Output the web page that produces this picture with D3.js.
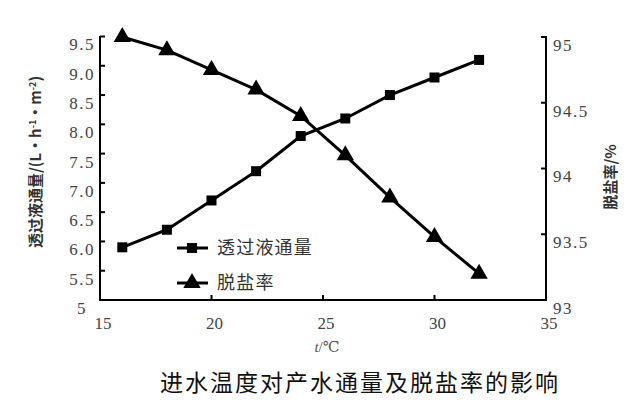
<!DOCTYPE html>
<html><head><meta charset="utf-8">
<script src="https://cdn.jsdelivr.net/npm/d3@7"></script>
<style>
html,body{margin:0;padding:0;background:#fff;}
svg{display:block;}
</style></head>
<body>
<svg id="c" width="634" height="404"></svg>
<script>
const temps = [16, 18, 20, 22, 24, 26, 28, 30, 32];
const flux = [5.9, 6.2, 6.7, 7.2, 7.8, 8.1, 8.5, 8.8, 9.1];
const rejection = [95.0, 94.9, 94.75, 94.6, 94.4, 94.1, 93.78, 93.48, 93.2];
const xTicks = [15, 20, 25, 30, 35];
const yLeftTicks = [5, 5.5, 6, 6.5, 7, 7.5, 8, 8.5, 9, 9.5];
const yRightTicks = [93, 93.5, 94, 94.5, 95];
const seriesNames = ["透过液通量", "脱盐率"];
const title = "进水温度对产水通量及脱盐率的影响";

const svg = d3.select("#c");
const L = 100, R = 546, T = 36, B = 300;
const x = d3.scaleLinear().domain([15, 35]).range([L, R]);
const yL = d3.scaleLinear().domain([5, 9.5]).range([B, T + 0.5]);
const yR = d3.scaleLinear().domain([93, 95]).range([B, T + 1]);

const tickFont = "Liberation Serif, DejaVu Serif, Times New Roman, serif";
const tickColor = "#444";

// axes lines
const axG = svg.append("g").attr("stroke", "#000").attr("stroke-width", 2).attr("fill", "none");
axG.append("line").attr("x1", L).attr("x2", L).attr("y1", T).attr("y2", B + 1);
axG.append("line").attr("x1", R).attr("x2", R).attr("y1", T).attr("y2", B + 1);
axG.append("line").attr("x1", L - 1).attr("x2", R + 1).attr("y1", B).attr("y2", B);

// left ticks
const lg = svg.append("g");
lg.selectAll("line").data(yLeftTicks).join("line")
  .attr("x1", L).attr("x2", L + 5).attr("y1", d => yL(d)).attr("y2", d => yL(d))
  .attr("stroke", "#000").attr("stroke-width", 2);
lg.selectAll("text").data(yLeftTicks).join("text")
  .attr("x", L - 18).attr("y", d => yL(d) + 8)
  .attr("dy", "0.35em").attr("text-anchor", "middle")
  .style("font-family", tickFont).attr("font-size", 17).attr("fill", tickColor)
  .attr("letter-spacing", 1.5)
  .text(d => d === 5 ? "5" : d3.format(".1f")(d));

// right ticks
const rg = svg.append("g");
rg.selectAll("line").data(yRightTicks).join("line")
  .attr("x1", R - 5).attr("x2", R).attr("y1", d => yR(d)).attr("y2", d => yR(d))
  .attr("stroke", "#000").attr("stroke-width", 2);
rg.selectAll("text").data(yRightTicks).join("text")
  .attr("x", R + 7).attr("y", d => yR(d) + 8)
  .attr("dy", "0.35em").attr("text-anchor", "start")
  .style("font-family", tickFont).attr("font-size", 17).attr("fill", tickColor)
  .attr("letter-spacing", 1.5)
  .text(d => String(d));

// bottom ticks
const bg = svg.append("g");
bg.selectAll("line").data(xTicks).join("line")
  .attr("x1", d => x(d)).attr("x2", d => x(d)).attr("y1", B).attr("y2", B - 5)
  .attr("stroke", "#000").attr("stroke-width", 2);
bg.selectAll("text").data(xTicks).join("text")
  .attr("x", d => x(d) + 3).attr("y", B + 23)
  .attr("dy", "0.35em").attr("text-anchor", "middle")
  .style("font-family", tickFont).attr("font-size", 17).attr("fill", tickColor)
  .text(d => d);

// axis titles
svg.append("text").attr("x", 327).attr("y", 347).attr("dy", "0.35em")
  .attr("text-anchor", "middle").style("font-family", tickFont).attr("font-size", 15).attr("fill", "#555")
  .html("<tspan font-style='italic'>t</tspan>/℃");

svg.append("text")
  .attr("transform", "translate(36,162) rotate(-90)")
  .attr("text-anchor", "middle").attr("dy", "0.35em")
  .style("font-family", "Noto Sans CJK SC, sans-serif").attr("font-size", 15).attr("fill", "#333")
  .attr("font-weight", "bold")
  .html("透过液通量/(L·h<tspan dy='-5' font-size='9'>-1</tspan><tspan dy='5'>·m</tspan><tspan dy='-5' font-size='9'>-2</tspan><tspan dy='5'>)</tspan>");

svg.append("text")
  .attr("transform", "translate(611,177) rotate(-90)")
  .attr("text-anchor", "middle").attr("dy", "0.35em")
  .style("font-family", "Noto Sans CJK SC, sans-serif").attr("font-size", 15).attr("fill", "#333")
  .attr("font-weight", "bold")
  .text("脱盐率/%");

// lines
const lineL = d3.line().x((d, i) => x(temps[i])).y(d => yL(d));
const lineR = d3.line().x((d, i) => x(temps[i])).y(d => yR(d));
svg.append("path").attr("d", lineL(flux)).attr("fill", "none").attr("stroke", "#000").attr("stroke-width", 3);
svg.append("path").attr("d", lineR(rejection)).attr("fill", "none").attr("stroke", "#000").attr("stroke-width", 3);

const sq = d3.symbol().type(d3.symbolSquare).size(100);
const tri = d3.symbol().type(d3.symbolTriangle).size(130);
svg.append("g").selectAll("path").data(flux).join("path")
  .attr("d", sq).attr("transform", (d, i) => `translate(${x(temps[i])},${yL(d)})`).attr("fill", "#000");
svg.append("g").selectAll("path").data(rejection).join("path")
  .attr("d", tri).attr("transform", (d, i) => `translate(${x(temps[i])},${yR(d)})`).attr("fill", "#000");

// legend
const legY = [248, 283];
const leg = svg.append("g");
legY.forEach((ly, i) => {
  leg.append("line").attr("x1", 177).attr("x2", 208).attr("y1", ly).attr("y2", ly)
    .attr("stroke", "#000").attr("stroke-width", 3);
  leg.append("path").attr("d", i === 0 ? sq() : tri())
    .attr("transform", `translate(192,${ly})`).attr("fill", "#000");
  leg.append("text").attr("x", 217).attr("y", ly).attr("dy", "0.35em")
    .style("font-family", "Noto Sans CJK SC, serif").attr("font-size", 18).attr("fill", "#333")
    .attr("letter-spacing", 1.2)
    .text(seriesNames[i]);
});

// title
svg.append("text").attr("x", 360).attr("y", 383).attr("dy", "0.35em")
  .attr("text-anchor", "middle").style("font-family", "Noto Sans CJK SC, sans-serif")
  .attr("font-size", 23).attr("fill", "#111").attr("letter-spacing", 2)
  .text(title);
</script>
</body></html>
